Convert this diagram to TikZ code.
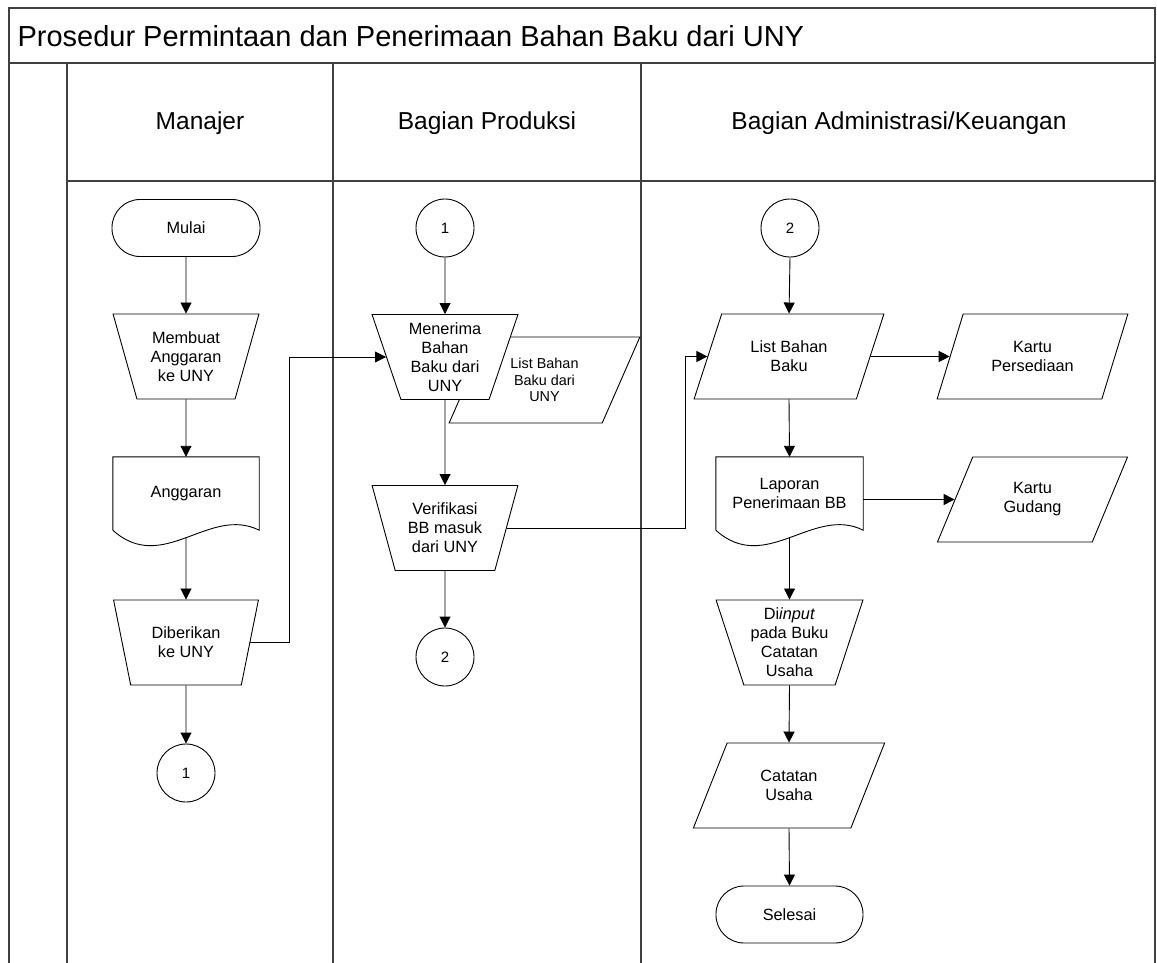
\documentclass[tikz,border=0pt]{standalone}
\usepackage{fontspec}
\setmainfont{Liberation Sans}
\usetikzlibrary{positioning,calc}
\usetikzlibrary{arrows.meta,shapes.geometric}
\tikzset{
  lane/.style={draw=black!75,line width=1.6pt},
  titletext/.style={anchor=west,font=\fontsize{29}{34}\selectfont},
  lanehead/.style={font=\fontsize{24.5}{29}\selectfont},
  flow/.style={draw=black,line width=0.9pt,fill=white,inner sep=0pt,align=center,font=\fontsize{16.3}{19}\selectfont},
  term/.style={flow,rectangle,rounded corners=28pt,minimum width=148pt,minimum height=57pt},
  manual/.style={flow,trapezium,shape border rotate=180,trapezium angle=71,trapezium stretches=true,minimum width=146pt,minimum height=85pt},
  io/.style={flow,trapezium,trapezium left angle=63,trapezium right angle=117,trapezium stretches=true,minimum width=190pt,minimum height=85pt},
  doc/.style={rectangle,inner sep=0pt,align=center,minimum width=146pt,minimum height=73pt,font=\fontsize{16.3}{19}\selectfont},
  conn/.style={flow,circle,minimum size=58pt,font=\fontsize{15}{18}\selectfont},
}
\tikzset{arr/.style={draw,line width=0.9pt,-{Triangle[length=11pt,width=11pt]}}, wavy/.style={line width=0.9pt}}

\begin{document}
\begin{tikzpicture}[x=1pt,y=-1pt]
\useasboundingbox (0,0) rectangle (1157,963);
% frame and lanes
\draw[lane] (9,963) -- (9,8) -- (1155,8) -- (1155,963);
\draw[lane] (9,63) -- (1155,63);
\draw[lane] (67,181) -- (1155,181);
\foreach \x in {67,333,641} \draw[lane] (\x,63) -- (\x,963);
\node[titletext] (judul) at (14,36) {Prosedur Permintaan dan Penerimaan Bahan Baku dari UNY};
\node[lanehead] (hmanajer) at (200,123) {Manajer};
\node[lanehead] (hproduksi) at (487,123) {Bagian Produksi};
\node[lanehead] (hadmin) at (899,123) {Bagian Administrasi/Keuangan};

% Manajer
\node[term] (mulai) at (186,228) {Mulai};
\node[manual] (membuat) at (186,356.5) {Membuat\\Anggaran\\ke UNY};
\node[doc] (anggaran) at (186,493.5) {Anggaran};
\node[manual] (diberikan) at (186,642.5) {Diberikan\\ke UNY};
\node[conn] (satuA) at (186,773) {1};

% Bagian Produksi
\node[conn] (satuB) at (445,228) {1};
\node[io,minimum width=191pt,minimum height=86pt,font=\fontsize{14.4}{16.5}\selectfont] (listuny) at (544.5,380) {List Bahan\\Baku dari\\UNY};
\node[manual] (menerima) at (445,357) {Menerima\\Bahan\\Baku dari\\UNY};
\node[manual] (verifikasi) at (445,528) {Verifikasi\\BB masuk\\dari UNY};
\node[conn] (duaA) at (445,657) {2};

% Bagian Administrasi/Keuangan
\node[conn] (duaB) at (790,228) {2};
\node[io] (listbb) at (789,356.5) {List Bahan\\Baku};
\node[io,minimum width=191pt] (kartup) at (1032.5,356.5) {Kartu\\Persediaan};
\node[doc,minimum width=147pt] (laporan) at (789.5,493.5) {Laporan\\Penerimaan BB};
\node[io,minimum width=191pt] (kartug) at (1032.5,499.5) {Kartu\\Gudang};
\node[manual,minimum width=147pt] (diinput) at (789.5,642.5) {Di\textit{input}\\pada Buku\\Catatan\\Usaha};
\node[io,minimum width=192pt] (catatan) at (789,785.5) {Catatan\\Usaha};
\node[term,minimum width=147pt] (selesai) at (789.5,914.5) {Selesai};

% document outlines
\foreach \d in {anggaran,laporan}
  \draw[wavy] (\d.south west) -- (\d.north west) -- (\d.north east) -- (\d.south east)
    .. controls +(-50,-25) and +(50,45) .. (\d.south west);

% connectors
\draw[arr] (mulai.south) -- (membuat.north);
\draw[arr] (membuat.south) -- (anggaran.north);
\draw[arr] ([yshift=-7pt]anggaran.south) -- (diberikan.north);
\draw[arr] (diberikan.south) -- (satuA.north);
\draw[arr] (diberikan.east) -- ++(39,0) |- (menerima.west);
\draw[arr] (satuB.south) -- (menerima.north);
\draw[arr] (menerima.south) -- (verifikasi.north);
\draw[arr] (verifikasi.south) -- (duaA.north);
\draw[arr] (verifikasi.east) -| ([xshift=-22pt]listbb.west) -- (listbb.west);
\draw[arr] (duaB.south) -- (listbb.north);
\draw[arr] (listbb.east) -- (kartup.west);
\draw[arr] (listbb.south) -- (laporan.north);
\draw[arr] (laporan.east |- kartug.west) -- (kartug.west);
\draw[arr] ([yshift=-7pt]laporan.south) -- (diinput.north);
\draw[arr] (diinput.south) -- (catatan.north);
\draw[arr] (catatan.south) -- (selesai.north);
\end{tikzpicture}
\end{document}
